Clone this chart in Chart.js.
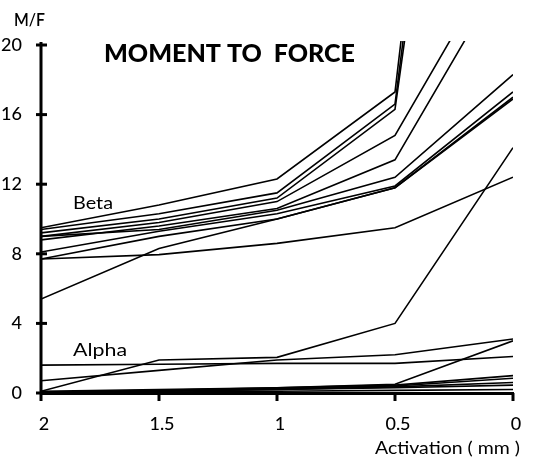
<!DOCTYPE html>
<html>
<head>
<meta charset="utf-8">
<script src="https://cdn.jsdelivr.net/npm/chart.js@4/dist/chart.umd.min.js"></script>
<style>
  html, body { margin: 0; padding: 0; background: #fff; }
  #wrap { width: 533px; height: 458px; }
</style>
</head>
<body>
<div id="wrap"><canvas id="mf"></canvas></div>
<script>
'use strict';
(function(){

	// activation steps (mm), read right to left on the axis
	var activation = [2, 1.5, 1, 0.5, 0];
	var yTicks = [0, 4, 8, 12, 16, 20];

	// beta curves (upper group); values past 20 run off the top
	var beta1 = [9.5, 10.8, 12.3, 17.3, 75];
	var beta2 = [9.4, 10.3, 11.5, 16.6, 70];
	var beta3 = [9.2, 10.0, 11.2, 16.3, 65];
	var beta4 = [9.0, 9.8, 11.0, 14.8, 26.5];
	var beta5 = [8.8, 9.6, 10.6, 13.4, 25];
	var beta6 = [9.0, 9.4, 10.5, 12.4, 18.3];
	var beta7 = [8.1, 9.3, 10.3, 11.9, 17.3];
	var beta8 = [7.7, 9.0, 10.0, 11.8, 16.9];
	var beta9 = [7.7, 7.95, 8.6, 9.5, 12.4];
	var beta10 = [5.4, 8.3, 10.0, 11.8, 17.0];

	// alpha curves (lower group)
	var alpha1 = [0.1, 1.9, 2.05, 4.0, 14.1];
	var alpha2 = [1.6, 1.65, 1.7, 1.7, 2.1];
	var alpha3 = [0.7, 1.3, 1.9, 2.2, 3.1];
	var alpha4 = [0.1, 0.2, 0.3, 0.5, 3.0];
	var alpha5 = [0.05, 0.15, 0.3, 0.45, 1.0];
	var alpha6 = [0.05, 0.1, 0.25, 0.4, 0.85];
	var alpha7 = [0.05, 0.1, 0.2, 0.35, 0.6];
	var alpha8 = [0, 0.1, 0.2, 0.3, 0.45];
	var alpha9 = [0, 0.05, 0.1, 0.15, 0.2];

	var curves = [beta1, beta2, beta3, beta4, beta5, beta6, beta7, beta8, beta9, beta10,
		alpha1, alpha2, alpha3, alpha4, alpha5, alpha6, alpha7, alpha8, alpha9];

	var FONT = "'Lato', 'Open Sans', sans-serif";

	var toPoints = function(vals){
		return vals.map(function(v, i){ return { x: activation[i], y: v }; });
	};

	var datasets = curves.map(function(c){
		return {
			data: toPoints(c),
			borderColor: '#000',
			borderWidth: 1.6,
			pointRadius: 0,
			tension: 0,
			fill: false,
			clip: { left: 0, top: 4, right: 0, bottom: 0 }
		};
	});

	// text stretched sideways to the wide geometric face of the original
	var fitText = function(ctx, text, x, y, w){
		var m = ctx.measureText(text).width;
		ctx.save();
		ctx.translate(x, y);
		ctx.scale(w / m, 1);
		ctx.fillText(text, 0, 0);
		ctx.restore();
	};

	// axis tick marks and the free text labels
	var decor = {
		id: 'decor',
		afterDraw: function(chart){
			var ctx = chart.ctx;
			var xs = chart.scales.x, ys = chart.scales.y;
			var x0 = xs.getPixelForValue(2), y0 = ys.getPixelForValue(0);
			ctx.save();
			ctx.strokeStyle = '#000';
			ctx.lineWidth = 3;
			// axis runs a little past 20
			ctx.beginPath();
			ctx.moveTo(x0, ys.getPixelForValue(20) - 3);
			ctx.lineTo(x0, y0);
			ctx.stroke();
			// y ticks cross the axis
			yTicks.forEach(function(t){
				var py = ys.getPixelForValue(t);
				ctx.beginPath();
				ctx.moveTo(x0 - 5, py);
				ctx.lineTo(x0 + 6, py);
				ctx.stroke();
			});
			// x ticks hang below
			activation.forEach(function(a){
				var px = xs.getPixelForValue(a);
				ctx.beginPath();
				ctx.moveTo(px, y0);
				ctx.lineTo(px, y0 + 8);
				ctx.stroke();
			});
			ctx.fillStyle = '#000';
			ctx.textBaseline = 'alphabetic';
			ctx.textAlign = 'left';
			ctx.font = '600 17px ' + FONT;
			fitText(ctx, 'M/F', 14, 26, 31);
			ctx.font = '900 25px ' + FONT;
			fitText(ctx, 'MOMENT TO  FORCE', 104, 62, 251);
			ctx.font = '17px ' + FONT;
			fitText(ctx, 'Beta', 73, 209, 40);
			fitText(ctx, 'Alpha', 73, 356, 54);
			ctx.font = '18px ' + FONT;
			fitText(ctx, 'Activation ( mm )', 375, 454, 145);
			ctx.restore();
		}
	};

	var ctx = document.getElementById('mf').getContext('2d');
	new Chart(ctx, {
		type: 'line',
		data: { datasets: datasets },
		options: {
			responsive: true,
			maintainAspectRatio: false,
			animation: false,
			layout: { padding: { top: 45, right: 20, left: 0, bottom: 0 } },
			plugins: { legend: { display: false }, tooltip: { enabled: false } },
			scales: {
				x: {
					type: 'linear',
					reverse: true,
					min: 0,
					max: 2,
					afterFit: function(s){ s.height = 65; },
					afterBuildTicks: function(s){ s.ticks = activation.map(function(v){ return { value: v }; }); },
					grid: { display: false },
					border: { display: true, color: '#000', width: 3 },
					ticks: {
						color: '#000',
						padding: 12,
						labelOffset: 3,
						font: { family: FONT, size: 18, weight: '500' },
						callback: function(v){ return String(v); }
					}
				},
				y: {
					min: 0,
					max: 20,
					afterFit: function(s){ s.width = 41; },
					afterBuildTicks: function(s){ s.ticks = yTicks.map(function(v){ return { value: v }; }); },
					grid: { display: false },
					border: { display: false },
					ticks: {
						color: '#000',
						padding: 11,
						font: { family: FONT, size: 18, weight: '500' }
					}
				}
			}
		},
		plugins: [decor]
	});

})();
</script>
</body>
</html>
